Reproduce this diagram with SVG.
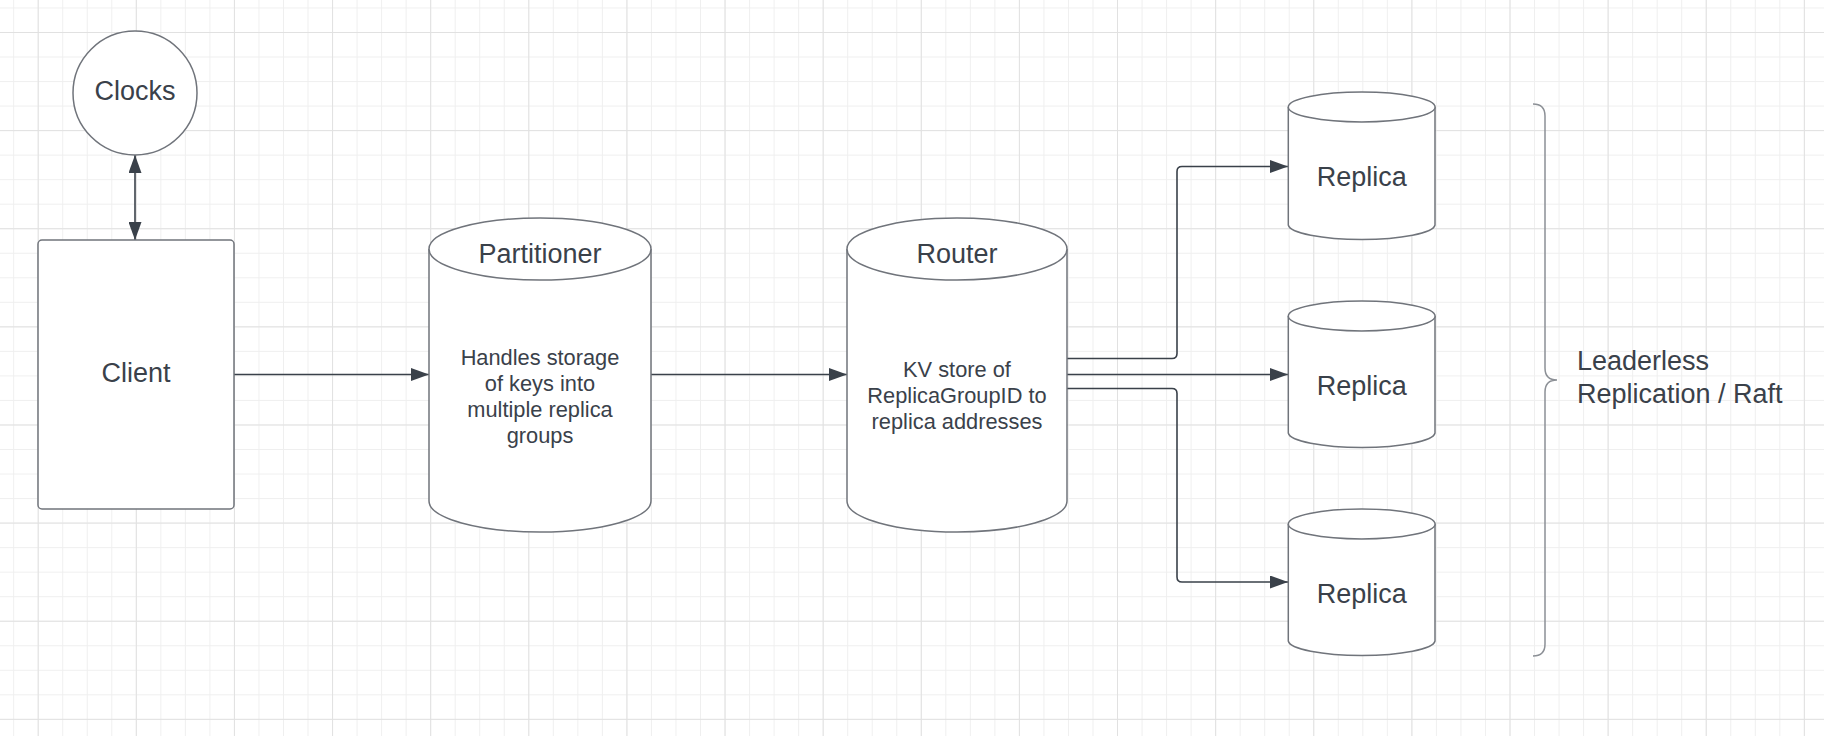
<svg xmlns="http://www.w3.org/2000/svg" width="1824" height="736" viewBox="0 0 1824 736">
  <defs>
    <pattern id="minor" patternUnits="userSpaceOnUse" x="37.7" y="32" width="24.53" height="24.53">
      <path d="M0.5,0 V24.53 M0,0.5 H24.53" fill="none" stroke="#efefef" stroke-width="1"/>
    </pattern>
    <pattern id="major" patternUnits="userSpaceOnUse" x="37.7" y="32" width="98.12" height="98.12">
      <path d="M0.5,0 V98.12 M0,0.5 H98.12" fill="none" stroke="#e1e1e1" stroke-width="1"/>
    </pattern>
    <marker id="arrow" markerUnits="userSpaceOnUse" markerWidth="18" markerHeight="13" refX="18" refY="6.5" orient="auto-start-reverse" viewBox="0 0 18 13">
      <path d="M0,0 L18,6.5 L0,13 Z" fill="#3a414a"/>
    </marker>
  </defs>
  <style>
    .shape { fill: #ffffff; stroke: #70747b; stroke-width: 1.5; }
    .conn { fill: none; stroke: #3a414a; stroke-width: 1.6; }
    .label { font-family: "Liberation Sans", Arial, sans-serif; font-size: 27px; fill: #3a414a; text-anchor: middle; }
    .body { font-family: "Liberation Sans", Arial, sans-serif; font-size: 21.8px; fill: #3a414a; text-anchor: middle; }
    .note { font-family: "Liberation Sans", Arial, sans-serif; font-size: 27px; fill: #3a414a; }
    .brace { fill: none; stroke: #8c9096; stroke-width: 1.5; }
  </style>

  <rect width="1824" height="736" fill="#ffffff"/>
  <rect width="1824" height="736" fill="url(#minor)"/>
  <rect width="1824" height="736" fill="url(#major)"/>

  <g id="connectors">
    <path class="conn" d="M135,155 V240" marker-start="url(#arrow)" marker-end="url(#arrow)"/>
    <path class="conn" d="M234,374.5 H429" marker-end="url(#arrow)"/>
    <path class="conn" d="M651,374.5 H847" marker-end="url(#arrow)"/>
    <path class="conn" d="M1067,374.5 H1288" marker-end="url(#arrow)"/>
    <path class="conn" d="M1067,358.5 H1172 Q1177,358.5 1177,353.5 V171.5 Q1177,166.5 1182,166.5 H1288" marker-end="url(#arrow)"/>
    <path class="conn" d="M1067,388.5 H1172 Q1177,388.5 1177,393.5 V577 Q1177,582 1182,582 H1288" marker-end="url(#arrow)"/>
  </g>

  <g id="clocks">
    <circle class="shape" cx="135" cy="93" r="62"/>
    <text class="label" x="135" y="100">Clocks</text>
  </g>

  <g id="client">
    <rect class="shape" x="38" y="240" width="196" height="269" rx="4"/>
    <text class="label" x="136" y="382">Client</text>
  </g>

  <g id="partitioner">
    <path class="shape" d="M429,249 V501 A111,31 0 0 0 651,501 V249"/>
    <ellipse class="shape" cx="540" cy="249" rx="111" ry="31"/>
    <text class="label" x="540" y="263">Partitioner</text>
    <text class="body" x="540" y="364.5">Handles storage</text>
    <text class="body" x="540" y="390.8">of keys into</text>
    <text class="body" x="540" y="417">multiple replica</text>
    <text class="body" x="540" y="443.3">groups</text>
  </g>

  <g id="router">
    <path class="shape" d="M847,249 V501 A110,31 0 0 0 1067,501 V249"/>
    <ellipse class="shape" cx="957" cy="249" rx="110" ry="31"/>
    <text class="label" x="957" y="263">Router</text>
    <text class="body" x="957" y="376.7">KV store of</text>
    <text class="body" x="957" y="403">ReplicaGroupID to</text>
    <text class="body" x="957" y="429.3">replica addresses</text>
  </g>

  <g id="replica1">
    <path class="shape" d="M1288.3,107 V225 A73.4,15 0 0 0 1435,225 V107"/>
    <ellipse class="shape" cx="1361.7" cy="107" rx="73.4" ry="15"/>
    <text class="label" x="1361.7" y="186">Replica</text>
  </g>

  <g id="replica2">
    <path class="shape" d="M1288.3,316 V433 A73.4,15 0 0 0 1435,433 V316"/>
    <ellipse class="shape" cx="1361.7" cy="316" rx="73.4" ry="15"/>
    <text class="label" x="1361.7" y="395">Replica</text>
  </g>

  <g id="replica3">
    <path class="shape" d="M1288.3,524 V641 A73.4,15 0 0 0 1435,641 V524"/>
    <ellipse class="shape" cx="1361.7" cy="524" rx="73.4" ry="15"/>
    <text class="label" x="1361.7" y="603">Replica</text>
  </g>

  <g id="replication-group">
    <path class="brace" d="M1533,104 Q1545,104 1545,116 V368 Q1545,380 1557,380 Q1545,380 1545,392 V644 Q1545,656 1533,656"/>
    <text class="note" x="1577" y="370">Leaderless</text>
    <text class="note" x="1577" y="402.5">Replication / Raft</text>
  </g>
</svg>
